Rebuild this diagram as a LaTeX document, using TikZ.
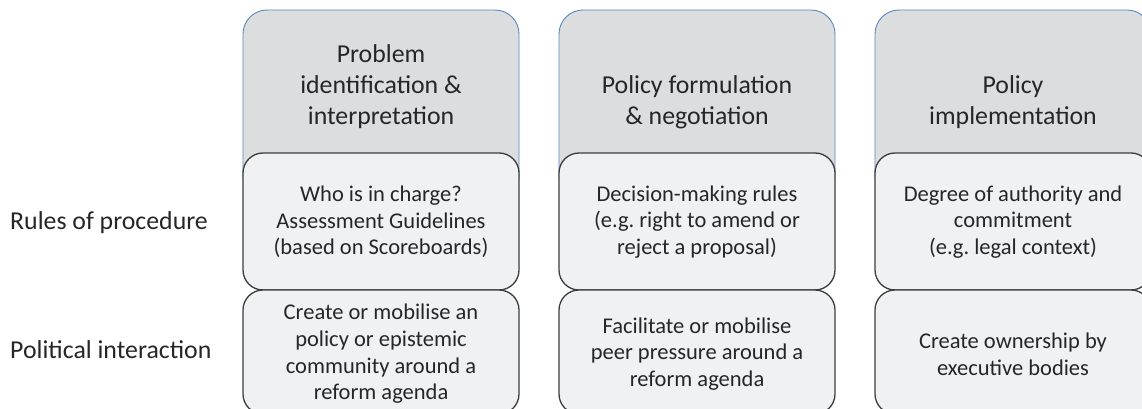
\documentclass[tikz,border=0pt]{standalone}
\usepackage{fontspec}
\setmainfont{Carlito}
\definecolor{topfill}{HTML}{DCDDDF}
\definecolor{boxfill}{HTML}{F0F1F3}
\definecolor{blueline}{HTML}{5A88BE}
\definecolor{darkline}{HTML}{3C3C3C}
\definecolor{txt}{HTML}{262626}
\tikzset{
  topbox/.style={draw=blueline, line width=0.9pt, fill=topfill, rounded corners=24pt,
    minimum width=276pt, minimum height=190pt, inner sep=0pt},
  cellbox/.style={draw=darkline, line width=1.3pt, fill=boxfill, rounded corners=20pt,
    minimum width=276pt, inner sep=0pt},
  titletext/.style={text=txt, font=\fontsize{25.8}{31}\selectfont, align=center, anchor=south, inner sep=0pt},
  celltext/.style={text=txt, font=\fontsize{22.5}{26.6}\selectfont, align=center, inner sep=0pt},
  rowlabel/.style={text=txt, font=\fontsize{25.8}{31}\selectfont, anchor=base west, inner sep=0pt},
}
\frenchspacing
\begin{document}
\begin{tikzpicture}[x=1pt,y=-1pt]
\useasboundingbox (0,0) rectangle (1142,409);
% top header boxes
\node[topbox] (h1) at (381,105) {};
\node[topbox] (h2) at (697,105) {};
\node[topbox] (h3) at (1013,105) {};
\node[titletext] (t1) at (381,129) {Problem\\identification \&\\interpretation};
\node[titletext] (t2) at (697,129) {Policy formulation\\\& negotiation};
\node[titletext] (t3) at (1013,129) {Policy\\implementation};
% middle row
\node[cellbox, minimum height=137pt] (m1) at (381,221.5) {};
\node[cellbox, minimum height=137pt] (m2) at (697,221.5) {};
\node[cellbox, minimum height=137pt] (m3) at (1013,221.5) {};
\node[celltext] (mt1) at (381,222) {Who is in charge?\\Assessment Guidelines\\(based on Scoreboards)};
\node[celltext] (mt2) at (697,222) {Decision-making rules\\(e.g.\ right to amend or\\reject a proposal)};
\node[celltext] (mt3) at (1013,222) {Degree of authority and\\commitment\\(e.g.\ legal context)};
% bottom row
\node[cellbox, minimum height=124pt] (b1) at (381,352) {};
\node[cellbox, minimum height=124pt] (b2) at (697,352) {};
\node[cellbox, minimum height=124pt] (b3) at (1013,352) {};
\node[celltext] (bt1) at (381,354) {Create or mobilise an\\policy or epistemic\\community around a\\reform agenda};
\node[celltext] (bt2) at (697,354) {Facilitate or mobilise\\peer pressure around a\\reform agenda};
\node[celltext] (bt3) at (1013,354) {Create ownership by\\executive bodies};
% row labels
\node[rowlabel] (r1) at (10,229) {Rules of procedure};
\node[rowlabel] (r2) at (10,358) {Political interaction};
\end{tikzpicture}
\end{document}
